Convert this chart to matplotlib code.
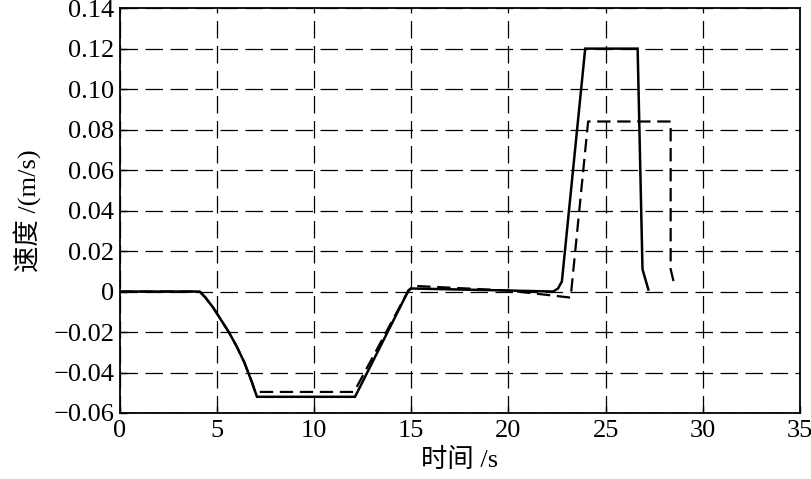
import matplotlib
matplotlib.use("Agg")
import matplotlib.pyplot as plt

plt.rcParams['font.family'] = ['Liberation Serif', 'Noto Sans CJK SC', 'DejaVu Sans']

# Solid curve
solid_x = [0, 4.1, 4.4, 4.8, 5.2, 5.6, 6.0, 6.4, 6.8, 7.05, 12.1, 14.85, 15.0, 20.0, 22.3, 22.55, 22.75, 23.95, 26.65, 26.9, 27.2]
solid_y = [0, 0, -0.003, -0.008, -0.014, -0.020, -0.027, -0.035, -0.045, -0.052, -0.052, 0.0005, 0.0015, 0.0005, 0.0, 0.0015, 0.005, 0.12, 0.12, 0.011, 0.001]

# Dashed curve
dash_x = [0, 4.1, 4.4, 4.8, 5.2, 5.6, 6.0, 6.4, 6.8, 6.95, 12.05, 14.85, 15.1, 20.0, 23.2, 24.1, 28.35, 28.35, 28.5]
dash_y = [0, 0, -0.003, -0.008, -0.014, -0.020, -0.027, -0.035, -0.045, -0.0496, -0.0496, 0.0005, 0.0028, 0.0005, -0.003, 0.084, 0.084, 0.011, 0.005]

x_ticks = [0, 5, 10, 15, 20, 25, 30, 35]
y_ticks = [-0.06, -0.04, -0.02, 0, 0.02, 0.04, 0.06, 0.08, 0.10, 0.12, 0.14]
y_tick_labels = ["\u22120.06", "\u22120.04", "\u22120.02", "0", "0.02", "0.04", "0.06", "0.08", "0.10", "0.12", "0.14"]

fig = plt.figure(figsize=(8.12, 4.79), dpi=100)
ax = fig.add_axes([0.1478, 0.1378, 0.8372, 0.8452])

ax.plot(solid_x, solid_y, color='black', lw=1.8, solid_joinstyle='miter')
ax.plot(dash_x, dash_y, color='black', lw=1.6, dashes=(6, 3))

ax.set_xlim(0, 35)
ax.set_ylim(-0.06, 0.14)
ax.set_xticks(x_ticks)
ax.set_yticks(y_ticks)
ax.set_yticklabels(y_tick_labels)
ax.grid(True, color='black', lw=0.9, linestyle=(0, (14, 6)))
ax.tick_params(direction='in', length=5, width=1.0, labelsize=19)
ax.tick_params(axis='x', pad=5)
ax.tick_params(axis='y', pad=4)
for s in ax.spines.values():
    s.set_linewidth(1.3)

ax.set_xlabel("时间 /s", fontsize=19, labelpad=4)
ax.set_ylabel("速度 /(m/s)", fontsize=19, labelpad=8)

fig.savefig("out.png", dpi=100)
